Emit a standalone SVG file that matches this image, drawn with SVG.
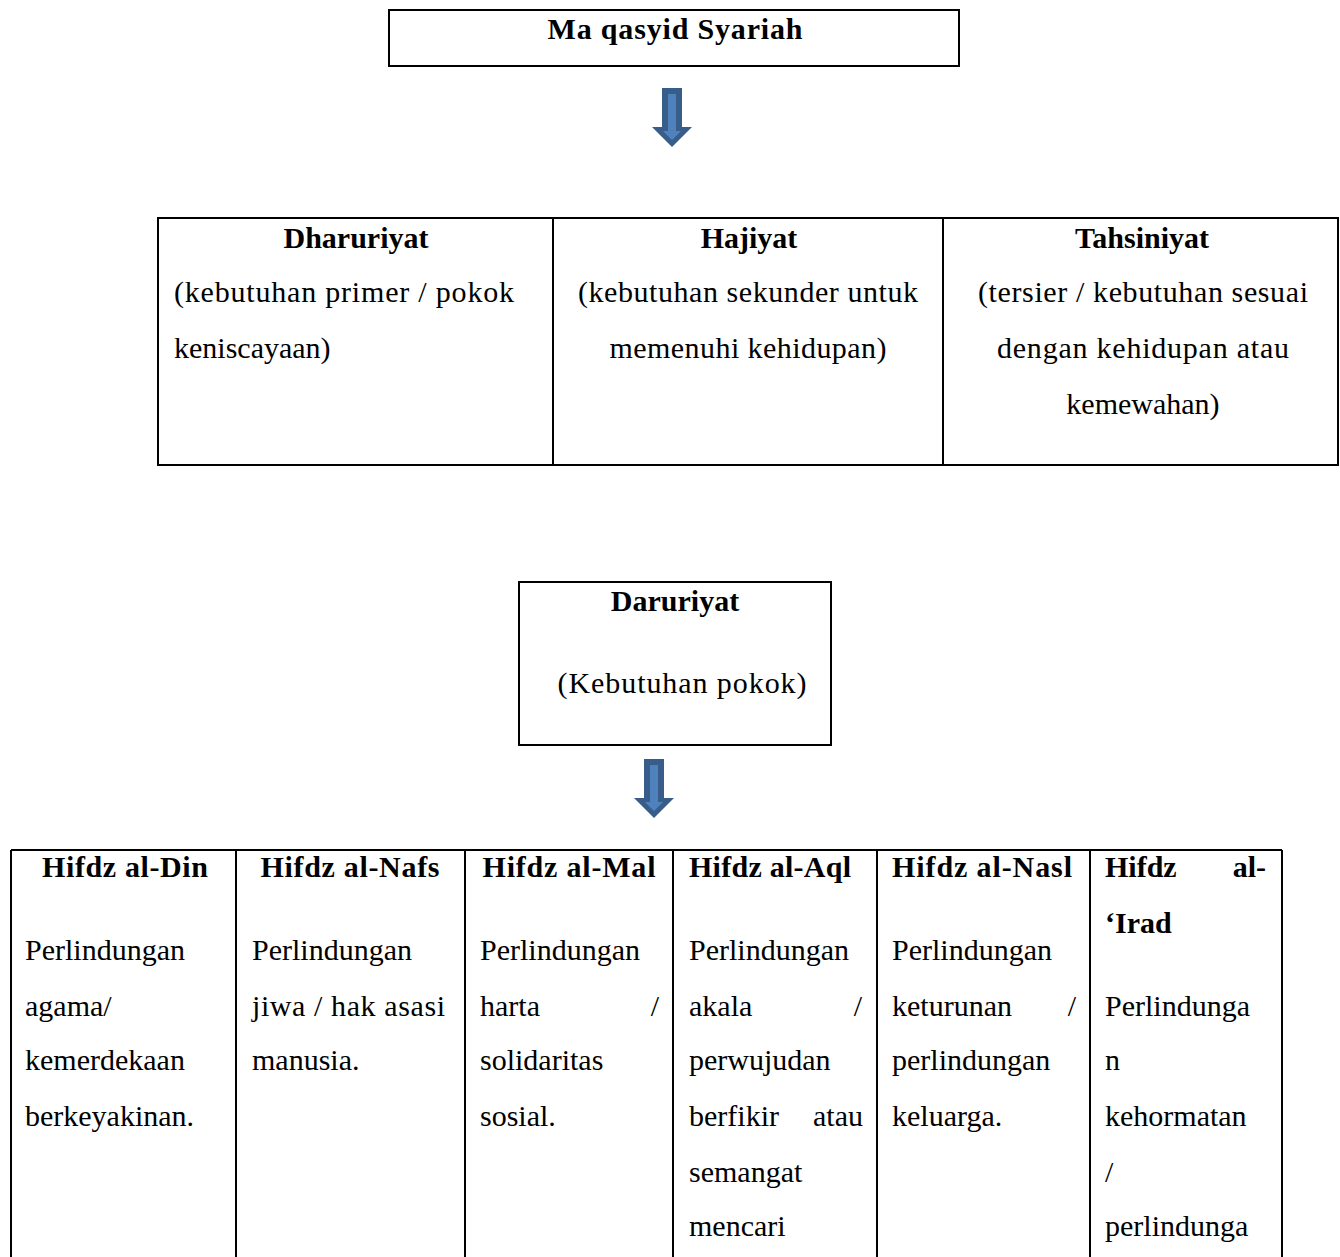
<svg xmlns="http://www.w3.org/2000/svg" width="1340" height="1257" viewBox="0 0 1340 1257">
<style>
  .box { fill: #ffffff; stroke: #000000; stroke-width: 2; }
  .ln { stroke: #000000; stroke-width: 2; fill: none; }
  text { font-family: "Liberation Serif", "Times New Roman", serif; font-size: 30px; fill: #000000; }
  .b { font-weight: bold; }
  .c { text-anchor: middle; }
  .e { text-anchor: end; }
</style>
<defs>
  <g id="arrow">
    <polygon points="662,88 682,88 682,127 692,127 672,147 652,127 662,127" fill="#385D8A"/>
    <polygon points="668,94 676,94 676,131 681,131 672,140 663,131 668,131" fill="#4F81BD"/>
  </g>
</defs>
<rect x="0" y="0" width="1340" height="1257" fill="#ffffff"/>

<g id="connectors">
  <use href="#arrow"/>
  <use href="#arrow" transform="translate(-18,671)"/>
</g>

<g id="node-maqasid">
  <rect class="box" x="389" y="10" width="570" height="56"/>
  <text class="b c" x="675" y="39" textLength="255" lengthAdjust="spacing">Ma qasyid Syariah</text>
</g>

<g id="node-levels">
  <rect class="box" x="158" y="218" width="1180" height="247"/>
  <line class="ln" x1="553" y1="218" x2="553" y2="465"/>
  <line class="ln" x1="943" y1="218" x2="943" y2="465"/>
  <g id="node-dharuriyat">
    <text class="b c" x="356" y="248">Dharuriyat</text>
    <text x="174" y="302" textLength="340" lengthAdjust="spacing">(kebutuhan  primer / pokok</text>
    <text x="174" y="358">keniscayaan)</text>
  </g>
  <g id="node-hajiyat">
    <text class="b c" x="749" y="248">Hajiyat</text>
    <text class="c" x="748" y="302" textLength="340" lengthAdjust="spacing">(kebutuhan  sekunder untuk</text>
    <text class="c" x="748" y="358" textLength="277" lengthAdjust="spacing">memenuhi  kehidupan)</text>
  </g>
  <g id="node-tahsiniyat">
    <text class="b c" x="1142" y="248">Tahsiniyat</text>
    <text class="c" x="1143" y="302" textLength="330" lengthAdjust="spacing">(tersier / kebutuhan  sesuai</text>
    <text class="c" x="1143" y="358" textLength="292" lengthAdjust="spacing">dengan kehidupan  atau</text>
    <text class="c" x="1143" y="414">kemewahan)</text>
  </g>
</g>

<g id="node-daruriyat">
  <rect class="box" x="519" y="582" width="312" height="163"/>
  <text class="b c" x="675" y="611">Daruriyat</text>
  <text class="c" x="682" y="693" textLength="249" lengthAdjust="spacing">(Kebutuhan  pokok)</text>
</g>

<g id="node-hifdz">
  <line class="ln" x1="11" y1="850" x2="1282" y2="850"/>
  <line class="ln" x1="11" y1="850" x2="11" y2="1257"/>
  <line class="ln" x1="236" y1="850" x2="236" y2="1257"/>
  <line class="ln" x1="465" y1="850" x2="465" y2="1257"/>
  <line class="ln" x1="673" y1="850" x2="673" y2="1257"/>
  <line class="ln" x1="877" y1="850" x2="877" y2="1257"/>
  <line class="ln" x1="1090" y1="850" x2="1090" y2="1257"/>
  <line class="ln" x1="1282" y1="850" x2="1282" y2="1257"/>

  <g id="node-din">
    <text class="b c" x="125" y="877" textLength="166" lengthAdjust="spacing">Hifdz al-Din</text>
    <text x="25" y="960">Perlindungan</text>
    <text x="25" y="1016">agama/</text>
    <text x="25" y="1070">kemerdekaan</text>
    <text x="25" y="1126">berkeyakinan.</text>
  </g>
  <g id="node-nafs">
    <text class="b c" x="350" y="877" textLength="179" lengthAdjust="spacing">Hifdz al-Nafs</text>
    <text x="252" y="960">Perlindungan</text>
    <text x="252" y="1016" textLength="193" lengthAdjust="spacing">jiwa / hak asasi</text>
    <text x="252" y="1070">manusia.</text>
  </g>
  <g id="node-mal">
    <text class="b c" x="569" y="877" textLength="173" lengthAdjust="spacing">Hifdz al-Mal</text>
    <text x="480" y="960">Perlindungan</text>
    <text x="480" y="1016">harta</text>
    <text class="e" x="659" y="1016">/</text>
    <text x="480" y="1070">solidaritas</text>
    <text x="480" y="1126">sosial.</text>
  </g>
  <g id="node-aql">
    <text class="b c" x="770" y="877" textLength="162" lengthAdjust="spacing">Hifdz al-Aql</text>
    <text x="689" y="960">Perlindungan</text>
    <text x="689" y="1016">akala</text>
    <text class="e" x="862" y="1016">/</text>
    <text x="689" y="1070">perwujudan</text>
    <text x="689" y="1126">berfikir</text>
    <text class="e" x="863" y="1126">atau</text>
    <text x="689" y="1182">semangat</text>
    <text x="689" y="1236">mencari</text>
  </g>
  <g id="node-nasl">
    <text class="b c" x="982" y="877" textLength="180" lengthAdjust="spacing">Hifdz al-Nasl</text>
    <text x="892" y="960">Perlindungan</text>
    <text x="892" y="1016">keturunan</text>
    <text class="e" x="1076" y="1016">/</text>
    <text x="892" y="1070">perlindungan</text>
    <text x="892" y="1126">keluarga.</text>
  </g>
  <g id="node-irad">
    <text class="b" x="1105" y="877">Hifdz</text>
    <text class="b e" x="1266" y="877">al-</text>
    <text class="b" x="1105" y="933">‘Irad</text>
    <text x="1105" y="1016">Perlindunga</text>
    <text x="1105" y="1070">n</text>
    <text x="1105" y="1126">kehormatan</text>
    <text x="1105" y="1182">/</text>
    <text x="1105" y="1236">perlindunga</text>
  </g>
</g>
</svg>
